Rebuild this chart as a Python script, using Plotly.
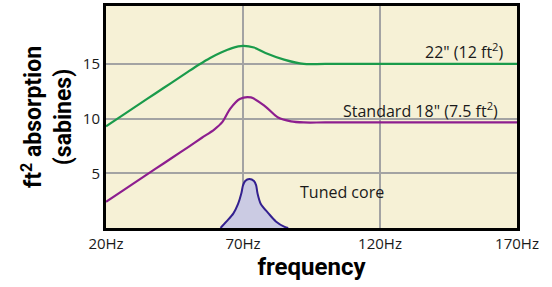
import plotly.graph_objects as go

# frequency (Hz) and absorption (sabines)
green_x = [20, 26, 32, 38, 44, 50, 54, 58, 62, 66, 70, 74, 78.2, 85, 92.2, 100, 170]
green_y = [9.3, 10.3, 11.3, 12.3, 13.3, 14.3, 14.95, 15.55, 16.05, 16.45, 16.65, 16.5, 16.0, 15.4, 15.0, 15.0, 15.0]

purple_x = [20, 26, 32, 38, 44, 50, 55, 59.5, 62.5, 65.3, 68.8, 72.9, 78.2, 82.8, 87.5, 92.2, 100, 170]
purple_y = [2.4, 3.4, 4.4, 5.4, 6.4, 7.4, 8.25, 9.0, 9.7, 10.9, 11.8, 11.94, 11.1, 10.1, 9.75, 9.65, 9.65, 9.65]

core_x = [61.8, 64, 66.5, 68.2, 69.4, 70, 70.8, 72.3, 74, 74.8, 75.3, 76.5, 79.3, 82, 85.2, 86.5]
core_y = [0, 0.6, 1.34, 2.2, 3.17, 3.9, 4.3, 4.48, 4.3, 3.9, 3.17, 2.2, 1.34, 0.6, 0.1, 0]

x_ticks = [20, 70, 120, 170]
x_labels = ["20Hz", "70Hz", "120Hz", "170Hz"]
y_ticks = [5, 10, 15]
y_labels = ["5", "10", "15"]

TXT = "Open Sans, Liberation Sans, sans-serif"
BOLD = "Roboto, Lato, sans-serif"

fig = go.Figure()
fig.add_trace(go.Scatter(x=core_x, y=core_y, mode="lines", fill="tozeroy",
                         fillcolor="#cbcbe3", line=dict(color="#33208f", width=2, shape="spline", smoothing=0.8),
                         showlegend=False, hoverinfo="skip"))
fig.add_trace(go.Scatter(x=purple_x, y=purple_y, mode="lines",
                         line=dict(color="#8d1e8f", width=2.2, shape="spline", smoothing=0.8),
                         showlegend=False))
fig.add_trace(go.Scatter(x=green_x, y=green_y, mode="lines",
                         line=dict(color="#1a9b4b", width=2.2, shape="spline", smoothing=0.8),
                         showlegend=False))

fig.add_annotation(x=166, y=16.2, text="22\" (12 ft<sup>2</sup>)", showarrow=False,
                   xanchor="right", yanchor="middle", font=dict(family=TXT, size=16, color="#1a1a1a"))
fig.add_annotation(x=163.8, y=10.75, text="Standard 18\" (7.5 ft<sup>2</sup>)", showarrow=False,
                   xanchor="right", yanchor="middle", font=dict(family=TXT, size=16, color="#1a1a1a"))
fig.add_annotation(x=90, y=3.29, text="Tuned core", showarrow=False,
                   xanchor="left", yanchor="middle", font=dict(family=TXT, size=16, color="#1a1a1a"))

fig.update_layout(
    width=552, height=287,
    margin=dict(l=106, r=35, t=6, b=59),
    paper_bgcolor="white", plot_bgcolor="#f6f1d6",
    xaxis=dict(range=[20, 170], tickvals=x_ticks, ticktext=x_labels, automargin=False,
               showgrid=True, gridcolor="#a3a3a3", gridwidth=2, zeroline=False,
               showline=True, linecolor="black", linewidth=3, mirror=True,
               ticks="", tickfont=dict(family=TXT, size=15, color="#1a1a1a"),
               title=dict(text="<b>frequency</b>", font=dict(family=BOLD, size=24, color="black"), standoff=4)),
    yaxis=dict(range=[0, 20.3], tickvals=y_ticks, ticktext=y_labels, automargin=False,
               showgrid=True, gridcolor="#a3a3a3", gridwidth=2, zeroline=False,
               showline=True, linecolor="black", linewidth=3, mirror=True,
               ticks="", tickfont=dict(family=TXT, size=15, color="#1a1a1a"),
               title=dict(text="<b>ft<sup>2</sup> absorption<br>(sabines)</b>",
                          font=dict(family=BOLD, size=23, color="black"), standoff=5)),
)

fig.write_html("out.html", config={"displayModeBar": False},
               post_script="document.body.style.margin='0px';document.body.style.overflow='hidden';")
